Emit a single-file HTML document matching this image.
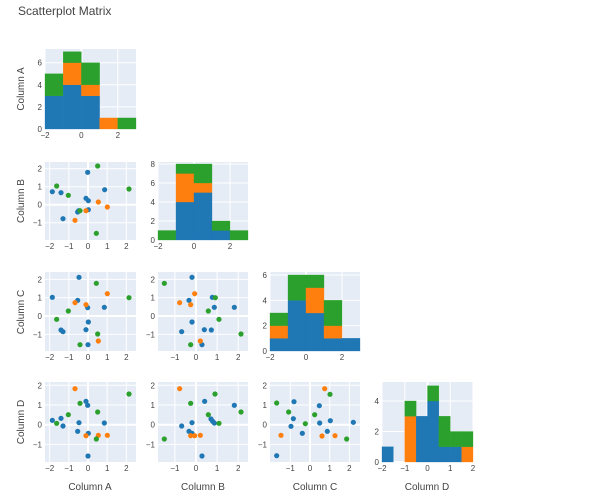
<!DOCTYPE html>
<html><head><meta charset="utf-8"><style>
html,body{margin:0;padding:0;background:#fff;}
svg{display:block;font-family:"Liberation Sans",sans-serif;}
</style></head><body>
<svg id="s" width="606" height="500" xmlns="http://www.w3.org/2000/svg">
<text x="18" y="15" font-size="12" fill="#444">Scatterplot Matrix</text>
<text transform="translate(24,89) rotate(-90)" font-size="10" fill="#444" text-anchor="middle">Column A</text>
<text transform="translate(24,201) rotate(-90)" font-size="10" fill="#444" text-anchor="middle">Column B</text>
<text transform="translate(24,312) rotate(-90)" font-size="10" fill="#444" text-anchor="middle">Column C</text>
<text transform="translate(24,422) rotate(-90)" font-size="10" fill="#444" text-anchor="middle">Column D</text>
<text x="90" y="490" font-size="10" fill="#444" text-anchor="middle">Column A</text>
<text x="203" y="490" font-size="10" fill="#444" text-anchor="middle">Column B</text>
<text x="315" y="490" font-size="10" fill="#444" text-anchor="middle">Column C</text>
<text x="427" y="490" font-size="10" fill="#444" text-anchor="middle">Column D</text>
<g id="g"></g>
</svg>
<script>
const NS="http://www.w3.org/2000/svg",G=document.getElementById('g');
function el(t,a,txt){const e=document.createElementNS(NS,t);for(const k in a)e.setAttribute(k,a[k]);if(txt!==undefined)e.textContent=txt;G.appendChild(e);return e;}
const C=['#1f77b4','#ff7f0e','#2ca02c'];
const fmt=v=>v<0?'\u2212'+(-v):''+v;
// panel: x0,y0,w,h, xmap(v)->px, ymap(v)->px, xticks, yticks
function panel(x0,y0,w,h,xm,ym,xt,yt){
 el('rect',{x:x0,y:y0,width:w,height:h,fill:'#e5ecf6'});
 xt.forEach(v=>{const p=xm(v);if(p>=x0-0.5&&p<=x0+w+0.5){el('line',{x1:p,x2:p,y1:y0,y2:y0+h,stroke:'#fff','stroke-width':v==0?2:1});}
  el('text',{x:p,y:y0+h+9,'font-size':8,fill:'#444','text-anchor':'middle'},fmt(v));});
 yt.forEach(v=>{const p=ym(v);el('line',{x1:x0,x2:x0+w,y1:p,y2:p,stroke:'#fff','stroke-width':v==0?2:1});
  el('text',{x:x0-3,y:p+3,'font-size':8,fill:'#444','text-anchor':'end'},fmt(v));});
}
function hist(x0,y0,w,h,xmin,xmax,ymaxpx,bw,bins,xt,yt){
 const xm=v=>x0+(v-xmin)/(xmax-xmin)*w, ym=v=>y0+h-v*ymaxpx;
 panel(x0,y0,w,h,xm,ym,xt,yt);
 bins.forEach((b,i)=>{let base=0;const xl=xm(xmin+i*bw),xr=xm(xmin+(i+1)*bw);
  b.forEach((c,k)=>{if(c>0){el('rect',{x:xl,y:ym(base+c),width:xr-xl,height:c*ymaxpx,fill:C[k],stroke:C[k],'stroke-width':0.3});}base+=c;});});
}
hist(45,49,91,80,-2,3,11.05,1,[[3,0,2],[4,2,1],[3,1,2],[0,1,0],[0,0,1]],[-2,0,2],[0,2,4,6]);
hist(158,162,90,78,-2,3,9.5,1,[[0,0,1],[4,3,1],[5,1,2],[1,0,1],[0,0,1]],[-2,0,2],[0,2,4,6,8]);
hist(270,272,90,79,-2,3,12.67,1,[[1,1,1],[4,0,2],[3,2,1],[1,1,2],[1,0,0]],[-2,0,2],[0,2,4,6]);
hist(382,382,91,80,-2,2,15.25,0.5,[[1,0,0],[0,0,0],[0,3,1],[3,0,0],[4,0,1],[1,0,2],[1,0,1],[0,1,1]],[-2,-1,0,1,2],[0,2,4]);
// scatter: axes in original px
const XA={z:88,s:19.17,x0:45,w:91,t:[-2,-1,0,1,2]},XB={z:196,s:21.1,x0:158,w:90,t:[-1,0,1,2]},XC={z:310,s:19.7,x0:270,w:90,t:[-1,0,1,2]};
const YB={z:204.7,s:18,y0:162,h:78},YC={z:316,s:18.33,y0:272,h:79},YD={z:424.7,s:19.7,y0:382,h:80};
function scat(X,Y,ox,oy,pts){
 const xm=v=>X.z+v*X.s, ym=v=>Y.z-v*Y.s;
 panel(X.x0,Y.y0,X.w,Y.h,xm,ym,X.t,[-1,0,1,2]);
 pts.forEach((g,k)=>g.forEach(p=>el('circle',{cx:ox+p[0]/3,cy:oy+p[1]/3,r:2.6,fill:C[k]})));
}
scat(XA,YB,0,40,[[[157,455],[183,458],[189,536],[263,397],[258,475],[265,482],[265,509],[233,516],[314,449],[236,512]],[[295,486],[322,501],[258,512],[225,541]],[[170,438],[205,466],[293,378],[387,447],[240,512],[289,580]]]);
scat(XA,YC,0,260,[[[237,52],[157,112],[233,121],[263,143],[313,142],[265,186],[258,209],[183,210],[189,215],[264,254]],[[322,101],[225,128],[258,134],[295,243]],[[289,70],[387,113],[205,153],[170,178],[293,222],[240,254]]]);
scat(XA,YD,0,260,[[[157,481],[183,475],[189,498],[258,424],[263,436],[237,488],[233,514],[265,520],[313,489],[264,588]],[[225,386],[295,526],[322,526],[258,527]],[[387,402],[240,430],[205,464],[293,456],[170,490],[289,537]]]);
scat(XB,YC,0,260,[[[576,52],[567,121],[637,112],[643,142],[703,142],[576,186],[545,215],[613,209],[634,210],[606,254]],[[584,101],[539,128],[572,134],[601,243]],[[493,70],[646,113],[625,153],[657,178],[723,222],[572,254]]]);
scat(XB,YD,0,260,[[[614,424],[703,436],[545,498],[576,488],[633,477],[638,484],[643,489],[567,514],[576,520],[606,588]],[[539,386],[572,527],[584,527],[601,526]],[[645,402],[572,430],[625,464],[723,456],[657,490],[493,537]]]);
scat(XC,YD,250,260,[[[132,425],[208,437],[130,476],[123,499],[157,520],[209,489],[241,482],[232,514],[310,487],[80,587]],[[224,386],[93,526],[216,528],[255,527]],[[240,403],[80,429],[116,456],[194,464],[166,491],[290,537]]]);
</script>
</body></html>
